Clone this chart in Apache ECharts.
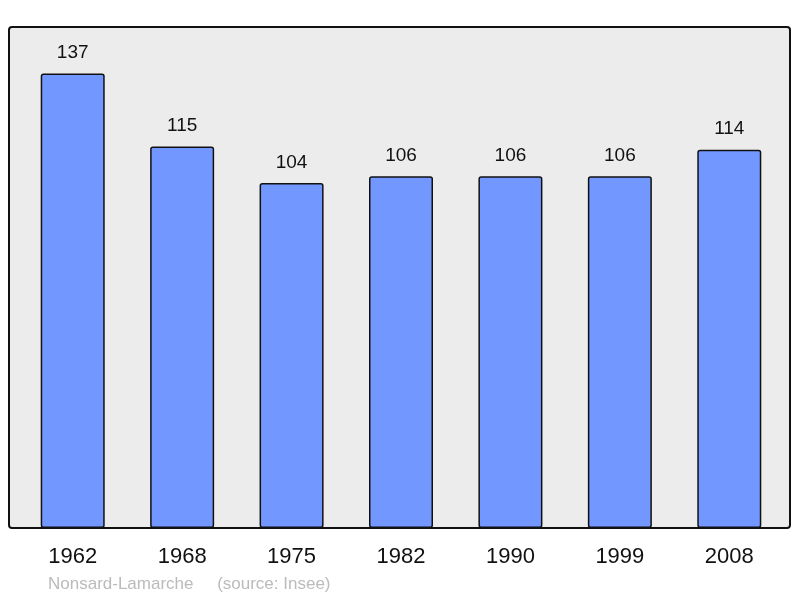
<!DOCTYPE html>
<html>
<head>
<meta charset="utf-8">
<script src="https://cdn.jsdelivr.net/npm/echarts@6/dist/echarts.min.js"></script>
<style>
  html, body { margin: 0; padding: 0; background: #fff; }
  #chart { width: 800px; height: 598px; }
</style>
</head>
<body>
<div id="chart"></div>
<script>
// 年份
var years = ["1962", "1968", "1975", "1982", "1990", "1999", "2008"];
// 人口
var population = [137, 115, 104, 106, 106, 106, 114];
// 说明文字
var commune = "Nonsard-Lamarche";
var source = "(source: Insee)";

var chart = echarts.init(document.getElementById("chart"));

var option = {
    animation: false,
    textStyle: { fontFamily: "Liberation Sans, Arial, sans-serif" },
    // 外框和底部说明
    graphic: [
        {
            type: "rect",
            shape: { x: 9, y: 27, width: 781, height: 501, r: 3 },
            style: { fill: "#ececec", stroke: "#111", lineWidth: 2 },
            z: -10
        },
        {
            type: "text",
            left: 48,
            top: 576,
            style: {
                text: commune + "     " + source,
                fill: "#bbbbbb",
                font: "17px Liberation Sans, Arial, sans-serif"
            }
        }
    ],
    grid: { left: 18, right: 16, top: 27, bottom: 70 },
    xAxis: {
        type: "category",
        data: years,
        axisLine: { show: false },
        axisTick: { show: false },
        axisLabel: {
            color: "#111",
            fontSize: 22,
            margin: 18
        }
    },
    yAxis: {
        type: "value",
        min: 0,
        max: 151,
        show: false
    },
    series: [{
        type: "bar",
        data: population,
        barWidth: 64,
        itemStyle: {
            color: "#7298ff",
            borderColor: "#111",
            borderWidth: 1.5,
            borderRadius: 2
        },
        label: {
            show: true,
            position: "top",
            distance: 11,
            color: "#111",
            fontSize: 19
        }
    }]
};

chart.setOption(option);

window.addEventListener("resize", function () {
    chart.resize();
});
</script>
</body>
</html>
